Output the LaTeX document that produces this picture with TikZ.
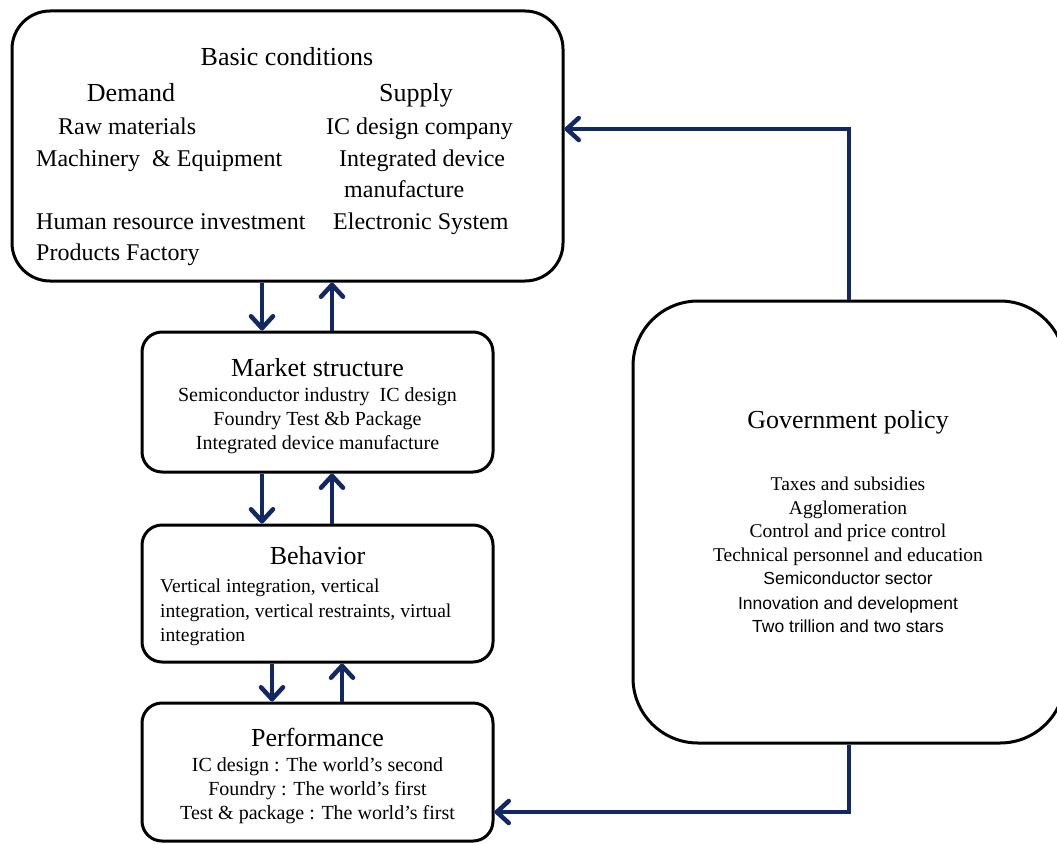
\documentclass[tikz,border=0pt]{standalone}
\usepackage{fontspec}
\setmainfont{Liberation Serif}
\newfontfamily\gsans{Liberation Sans}
\usetikzlibrary{arrows.meta}
\definecolor{navy}{RGB}{18,40,100}
\begin{document}
\begin{tikzpicture}[x=1pt,y=-1pt,
  box/.style={draw=black, line width=3pt, rounded corners=#1, inner sep=0pt},
  hd/.style={inner sep=0pt, anchor=base, font=\fontsize{26}{30}\selectfont},
  itm/.style={inner sep=0pt, anchor=base west, font=\fontsize{24}{28}\selectfont},
  sm/.style={inner sep=0pt, anchor=base, font=\fontsize{20}{24}\selectfont},
  smw/.style={inner sep=0pt, anchor=base west, font=\fontsize{19.6}{24}\selectfont},
  gv/.style={inner sep=0pt, anchor=base, font=\fontsize{19.5}{24}\selectfont},
  gvs/.style={inner sep=0pt, anchor=base, font=\gsans\fontsize{17.5}{24}\selectfont},
  flow/.style={draw=navy, line width=4.5pt, -{Straight Barb[length=12pt,width=22pt,round]}}]
\useasboundingbox (0,0) rectangle (1057,843);

% boxes
\node[box=38pt, minimum width=551pt, minimum height=270pt] (basic) at (287.5,146) {};
\node[box=20pt, minimum width=351pt, minimum height=140pt] (market) at (317.5,402) {};
\node[box=20pt, minimum width=351pt, minimum height=137pt] (behav) at (317.5,593.5) {};
\node[box=20pt, minimum width=351pt, minimum height=138pt] (perf) at (317.5,772) {};
\node[box=65pt, minimum width=432pt, minimum height=442pt] (gov) at (849,522) {};

% basic conditions text
\node[hd] (bt) at (287,66) {Basic conditions};
\node[hd] (bd) at (131,101) {Demand};
\node[hd] (bs) at (416,101) {Supply};
\node[itm] (b1) at (58,134) {Raw materials};
\node[itm] (b2) at (326,134) {IC design company};
\node[itm] (b3) at (36,166) {Machinery\ \ \& Equipment};
\node[itm] (b4) at (339,166) {Integrated device};
\node[itm] (b5) at (344,197) {manufacture};
\node[itm] (b6) at (36,229) {Human resource investment};
\node[itm] (b7) at (333,229) {Electronic System};
\node[itm] (b8) at (36,260) {Products Factory};

% market structure
\node[hd] (mt) at (317.5,376) {Market structure};
\node[sm] (m1) at (317.5,401) {Semiconductor industry\ \ IC design};
\node[sm] (m2) at (317.5,425) {Foundry Test \&b Package};
\node[sm] (m3) at (317.5,449) {Integrated device manufacture};

% behavior
\node[hd] (vt) at (317.5,564) {Behavior};
\node[smw] (v1) at (160,592) {Vertical integration, vertical};
\node[smw] (v2) at (160,617) {integration, vertical restraints, virtual};
\node[smw] (v3) at (160,641) {integration};

% performance
\node[hd] (pt) at (317.5,746) {Performance};
\node[sm] (p1) at (317.5,771) {IC design : The world's second};
\node[sm] (p2) at (317.5,795) {Foundry : The world's first};
\node[sm] (p3) at (317.5,819) {Test \& package : The world's first};

% government policy
\node[hd] (gt) at (848,428) {Government policy};
\node[gv] (g1) at (848,490) {Taxes and subsidies};
\node[gv] (g2) at (848,514) {Agglomeration};
\node[gv] (g3) at (848,537) {Control and price control};
\node[gv] (g4) at (848,561.5) {Technical personnel and education};
\node[gvs] (g5) at (848,584.5) {Semiconductor sector};
\node[gvs] (g6) at (848,609) {Innovation and development};
\node[gvs] (g7) at (848,632.5) {Two trillion and two stars};

% connectors between left boxes
\coordinate (xa) at (262,0);
\coordinate (xb) at (332,0);
\coordinate (xc) at (272,0);
\coordinate (xd) at (342,0);
\draw[flow] (xa |- basic.south) -- (xa |- market.north);
\draw[flow] (xb |- market.north) -- (xb |- basic.south);
\draw[flow] (xa |- market.south) -- (xa |- behav.north);
\draw[flow] (xb |- behav.north) -- (xb |- market.south);
\draw[flow] (xc |- behav.south) -- (xc |- perf.north);
\draw[flow] (xd |- perf.north) -- (xd |- behav.south);

% government policy connectors
\coordinate (ty) at (0,129);
\coordinate (by) at (0,812);
\draw[flow] (gov.north) |- (ty -| basic.east);
\draw[flow] (gov.south) |- (by -| perf.east);
\end{tikzpicture}
\end{document}
